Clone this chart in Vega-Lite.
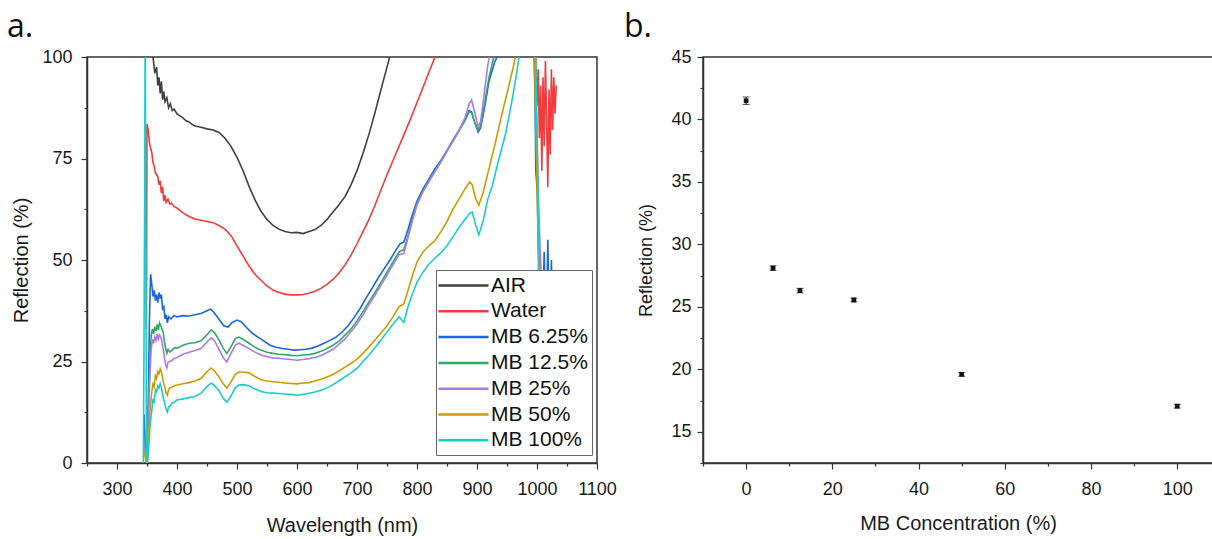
{
  "$schema": "https://vega.github.io/schema/vega-lite/v6.json",
  "background": "white",
  "padding": {"left": 6, "top": 10, "right": 0, "bottom": 2},
  "config": {
    "font": "Liberation Sans",
    "view": {"stroke": "#333333", "strokeWidth": 1.5},
    "axis": {"labelFont": "Liberation Sans", "titleFont": "Liberation Sans", "domainColor": "#333333", "domainWidth": 1.5, "tickColor": "#333333", "tickWidth": 1.2, "labelColor": "#1a1a1a", "titleColor": "#1a1a1a", "labelFontSize": 18, "titleFontSize": 20, "titleFontWeight": "normal", "grid": false, "labelFlush": false, "labelOverlap": false},
    "legend": {"labelFont": "Liberation Sans"},
    "title": {"font": "Open Sans", "fontSize": 32, "fontWeight": "normal", "color": "#111111", "anchor": "start", "frame": "bounds"},
    "concat": {"spacing": 5}
  },
  "datasets": {
    "spectra": [
      {"s":"AIR","w":356,"r":112},{"s":"AIR","w":360,"r":100},{"s":"AIR","w":363,"r":96},{"s":"AIR","w":366,"r":97.5},{"s":"AIR","w":368,"r":93},{"s":"AIR","w":370,"r":95},{"s":"AIR","w":372,"r":91},{"s":"AIR","w":374,"r":94},{"s":"AIR","w":376,"r":89.5},{"s":"AIR","w":378,"r":91.5},{"s":"AIR","w":380,"r":89},{"s":"AIR","w":383,"r":90},{"s":"AIR","w":386,"r":87.5},{"s":"AIR","w":389,"r":88.5},{"s":"AIR","w":392,"r":86.8},{"s":"AIR","w":395,"r":87.2},{"s":"AIR","w":400,"r":86},{"s":"AIR","w":405,"r":85.5},{"s":"AIR","w":410,"r":85},{"s":"AIR","w":415,"r":84.3},{"s":"AIR","w":420,"r":84},{"s":"AIR","w":425,"r":83.4},{"s":"AIR","w":430,"r":83},{"s":"AIR","w":440,"r":82.7},{"s":"AIR","w":450,"r":82.3},{"s":"AIR","w":460,"r":82},{"s":"AIR","w":470,"r":81.4},{"s":"AIR","w":480,"r":80},{"s":"AIR","w":490,"r":78},{"s":"AIR","w":500,"r":75.3},{"s":"AIR","w":510,"r":72},{"s":"AIR","w":520,"r":68.2},{"s":"AIR","w":530,"r":64.8},{"s":"AIR","w":540,"r":62},{"s":"AIR","w":550,"r":60},{"s":"AIR","w":560,"r":58.5},{"s":"AIR","w":570,"r":57.6},{"s":"AIR","w":580,"r":57},{"s":"AIR","w":590,"r":56.7},{"s":"AIR","w":600,"r":56.8},{"s":"AIR","w":610,"r":56.5},{"s":"AIR","w":620,"r":57},{"s":"AIR","w":630,"r":57.5},{"s":"AIR","w":640,"r":58.5},{"s":"AIR","w":650,"r":60},{"s":"AIR","w":660,"r":61.8},{"s":"AIR","w":670,"r":63.6},{"s":"AIR","w":680,"r":65.6},{"s":"AIR","w":690,"r":68.5},{"s":"AIR","w":700,"r":72},{"s":"AIR","w":710,"r":76.3},{"s":"AIR","w":720,"r":81},{"s":"AIR","w":730,"r":86.3},{"s":"AIR","w":740,"r":92},{"s":"AIR","w":750,"r":97.5},{"s":"AIR","w":760,"r":103},{"s":"AIR","w":770,"r":108},
      {"s":"Water","w":349,"r":33},{"s":"Water","w":350,"r":83.5},{"s":"Water","w":352,"r":82},{"s":"Water","w":354,"r":79},{"s":"Water","w":356,"r":77.5},{"s":"Water","w":358,"r":76.5},{"s":"Water","w":360,"r":74},{"s":"Water","w":362,"r":73},{"s":"Water","w":364,"r":71.5},{"s":"Water","w":366,"r":71},{"s":"Water","w":368,"r":70.5},{"s":"Water","w":370,"r":68.5},{"s":"Water","w":372,"r":69.5},{"s":"Water","w":374,"r":66.5},{"s":"Water","w":376,"r":68},{"s":"Water","w":378,"r":64.5},{"s":"Water","w":380,"r":66},{"s":"Water","w":382,"r":64.2},{"s":"Water","w":385,"r":65},{"s":"Water","w":388,"r":63.8},{"s":"Water","w":391,"r":64},{"s":"Water","w":395,"r":63.2},{"s":"Water","w":400,"r":62.8},{"s":"Water","w":405,"r":62.2},{"s":"Water","w":410,"r":61.6},{"s":"Water","w":420,"r":60.7},{"s":"Water","w":430,"r":60.1},{"s":"Water","w":440,"r":59.8},{"s":"Water","w":450,"r":59.5},{"s":"Water","w":460,"r":59.2},{"s":"Water","w":470,"r":58.5},{"s":"Water","w":480,"r":57.6},{"s":"Water","w":490,"r":56},{"s":"Water","w":500,"r":53.5},{"s":"Water","w":510,"r":51},{"s":"Water","w":520,"r":48.5},{"s":"Water","w":530,"r":46.5},{"s":"Water","w":540,"r":45},{"s":"Water","w":550,"r":43.6},{"s":"Water","w":560,"r":42.6},{"s":"Water","w":570,"r":42},{"s":"Water","w":580,"r":41.6},{"s":"Water","w":590,"r":41.4},{"s":"Water","w":600,"r":41.4},{"s":"Water","w":610,"r":41.5},{"s":"Water","w":620,"r":41.8},{"s":"Water","w":630,"r":42.3},{"s":"Water","w":640,"r":43},{"s":"Water","w":650,"r":44},{"s":"Water","w":660,"r":45.2},{"s":"Water","w":670,"r":46.8},{"s":"Water","w":680,"r":48.8},{"s":"Water","w":690,"r":51.2},{"s":"Water","w":700,"r":54},{"s":"Water","w":710,"r":57},{"s":"Water","w":720,"r":60},{"s":"Water","w":730,"r":63.5},{"s":"Water","w":740,"r":67.3},{"s":"Water","w":750,"r":71},{"s":"Water","w":760,"r":74.5},{"s":"Water","w":770,"r":78},{"s":"Water","w":780,"r":81.5},{"s":"Water","w":790,"r":85},{"s":"Water","w":800,"r":88.8},{"s":"Water","w":810,"r":92.5},{"s":"Water","w":820,"r":96.3},{"s":"Water","w":830,"r":100},{"s":"Water","w":840,"r":104},{"s":"Water","w":990,"r":125},{"s":"Water","w":998,"r":100},{"s":"Water","w":1000,"r":88},{"s":"Water","w":1002,"r":97},{"s":"Water","w":1004,"r":80},{"s":"Water","w":1006,"r":93},{"s":"Water","w":1008,"r":72},{"s":"Water","w":1010,"r":95},{"s":"Water","w":1012,"r":78},{"s":"Water","w":1014,"r":99},{"s":"Water","w":1016,"r":85},{"s":"Water","w":1018,"r":68},{"s":"Water","w":1020,"r":92},{"s":"Water","w":1022,"r":76},{"s":"Water","w":1024,"r":97},{"s":"Water","w":1026,"r":82},{"s":"Water","w":1028,"r":95},{"s":"Water","w":1030,"r":86},{"s":"Water","w":1032,"r":93},
      {"s":"MB 6.25%","w":345,"r":12},{"s":"MB 6.25%","w":348,"r":1},{"s":"MB 6.25%","w":351,"r":3},{"s":"MB 6.25%","w":354,"r":35},{"s":"MB 6.25%","w":356,"r":46.5},{"s":"MB 6.25%","w":358,"r":44},{"s":"MB 6.25%","w":360,"r":41},{"s":"MB 6.25%","w":362,"r":42.5},{"s":"MB 6.25%","w":364,"r":40},{"s":"MB 6.25%","w":366,"r":41.5},{"s":"MB 6.25%","w":368,"r":39.5},{"s":"MB 6.25%","w":370,"r":42},{"s":"MB 6.25%","w":372,"r":40.5},{"s":"MB 6.25%","w":374,"r":41.5},{"s":"MB 6.25%","w":376,"r":38},{"s":"MB 6.25%","w":378,"r":38.5},{"s":"MB 6.25%","w":380,"r":35.5},{"s":"MB 6.25%","w":382,"r":36.5},{"s":"MB 6.25%","w":384,"r":34.5},{"s":"MB 6.25%","w":386,"r":36},{"s":"MB 6.25%","w":390,"r":35.5},{"s":"MB 6.25%","w":395,"r":36.3},{"s":"MB 6.25%","w":400,"r":36},{"s":"MB 6.25%","w":410,"r":36.3},{"s":"MB 6.25%","w":420,"r":36.2},{"s":"MB 6.25%","w":430,"r":36.5},{"s":"MB 6.25%","w":440,"r":36.8},{"s":"MB 6.25%","w":450,"r":37.5},{"s":"MB 6.25%","w":456,"r":37.9},{"s":"MB 6.25%","w":462,"r":37},{"s":"MB 6.25%","w":470,"r":35.4},{"s":"MB 6.25%","w":478,"r":33.8},{"s":"MB 6.25%","w":485,"r":33.5},{"s":"MB 6.25%","w":492,"r":34.6},{"s":"MB 6.25%","w":500,"r":35.2},{"s":"MB 6.25%","w":507,"r":34.8},{"s":"MB 6.25%","w":515,"r":33.5},{"s":"MB 6.25%","w":525,"r":32},{"s":"MB 6.25%","w":535,"r":31},{"s":"MB 6.25%","w":545,"r":30},{"s":"MB 6.25%","w":555,"r":29},{"s":"MB 6.25%","w":565,"r":28.5},{"s":"MB 6.25%","w":575,"r":28.2},{"s":"MB 6.25%","w":585,"r":28},{"s":"MB 6.25%","w":595,"r":27.8},{"s":"MB 6.25%","w":605,"r":27.9},{"s":"MB 6.25%","w":615,"r":28},{"s":"MB 6.25%","w":625,"r":28.3},{"s":"MB 6.25%","w":635,"r":28.8},{"s":"MB 6.25%","w":645,"r":29.5},{"s":"MB 6.25%","w":655,"r":30.2},{"s":"MB 6.25%","w":665,"r":31},{"s":"MB 6.25%","w":675,"r":32.2},{"s":"MB 6.25%","w":685,"r":33.8},{"s":"MB 6.25%","w":695,"r":35.8},{"s":"MB 6.25%","w":705,"r":38},{"s":"MB 6.25%","w":715,"r":40.6},{"s":"MB 6.25%","w":725,"r":43},{"s":"MB 6.25%","w":735,"r":45.5},{"s":"MB 6.25%","w":745,"r":47.8},{"s":"MB 6.25%","w":755,"r":50},{"s":"MB 6.25%","w":765,"r":52.5},{"s":"MB 6.25%","w":772,"r":54},{"s":"MB 6.25%","w":778,"r":54.4},{"s":"MB 6.25%","w":785,"r":57.5},{"s":"MB 6.25%","w":792,"r":61},{"s":"MB 6.25%","w":800,"r":64.5},{"s":"MB 6.25%","w":810,"r":67.5},{"s":"MB 6.25%","w":820,"r":70},{"s":"MB 6.25%","w":830,"r":72.5},{"s":"MB 6.25%","w":840,"r":74.6},{"s":"MB 6.25%","w":850,"r":77},{"s":"MB 6.25%","w":860,"r":79.5},{"s":"MB 6.25%","w":870,"r":82},{"s":"MB 6.25%","w":880,"r":84.5},{"s":"MB 6.25%","w":887,"r":86.8},{"s":"MB 6.25%","w":891,"r":86.5},{"s":"MB 6.25%","w":896,"r":84},{"s":"MB 6.25%","w":902,"r":81.5},{"s":"MB 6.25%","w":906,"r":82.5},{"s":"MB 6.25%","w":912,"r":87},{"s":"MB 6.25%","w":920,"r":94},{"s":"MB 6.25%","w":930,"r":99},{"s":"MB 6.25%","w":937,"r":101},{"s":"MB 6.25%","w":990,"r":108},{"s":"MB 6.25%","w":996,"r":100},{"s":"MB 6.25%","w":998,"r":72},{"s":"MB 6.25%","w":1001,"r":66},{"s":"MB 6.25%","w":1004,"r":42},{"s":"MB 6.25%","w":1008,"r":30},{"s":"MB 6.25%","w":1012,"r":52},{"s":"MB 6.25%","w":1015,"r":28},{"s":"MB 6.25%","w":1018,"r":55},{"s":"MB 6.25%","w":1021,"r":30},{"s":"MB 6.25%","w":1024,"r":50},{"s":"MB 6.25%","w":1027,"r":26},{"s":"MB 6.25%","w":1030,"r":46},
      {"s":"MB 12.5%","w":345,"r":6},{"s":"MB 12.5%","w":349,"r":0.5},{"s":"MB 12.5%","w":352,"r":12},{"s":"MB 12.5%","w":355,"r":26},{"s":"MB 12.5%","w":357,"r":31.5},{"s":"MB 12.5%","w":359,"r":33},{"s":"MB 12.5%","w":361,"r":31.8},{"s":"MB 12.5%","w":363,"r":33.5},{"s":"MB 12.5%","w":365,"r":32.5},{"s":"MB 12.5%","w":367,"r":34.2},{"s":"MB 12.5%","w":369,"r":32.8},{"s":"MB 12.5%","w":371,"r":34.5},{"s":"MB 12.5%","w":373,"r":33.8},{"s":"MB 12.5%","w":375,"r":33},{"s":"MB 12.5%","w":377,"r":32.2},{"s":"MB 12.5%","w":379,"r":30},{"s":"MB 12.5%","w":381,"r":28.2},{"s":"MB 12.5%","w":383,"r":27},{"s":"MB 12.5%","w":385,"r":28},{"s":"MB 12.5%","w":388,"r":27.3},{"s":"MB 12.5%","w":392,"r":27.8},{"s":"MB 12.5%","w":396,"r":28.4},{"s":"MB 12.5%","w":400,"r":28.3},{"s":"MB 12.5%","w":410,"r":29},{"s":"MB 12.5%","w":420,"r":29.5},{"s":"MB 12.5%","w":430,"r":29.6},{"s":"MB 12.5%","w":440,"r":30.1},{"s":"MB 12.5%","w":450,"r":31.6},{"s":"MB 12.5%","w":457,"r":32.8},{"s":"MB 12.5%","w":463,"r":32},{"s":"MB 12.5%","w":470,"r":30.3},{"s":"MB 12.5%","w":477,"r":28.3},{"s":"MB 12.5%","w":483,"r":27},{"s":"MB 12.5%","w":490,"r":28.6},{"s":"MB 12.5%","w":497,"r":30.6},{"s":"MB 12.5%","w":503,"r":31},{"s":"MB 12.5%","w":510,"r":30.5},{"s":"MB 12.5%","w":520,"r":29.5},{"s":"MB 12.5%","w":530,"r":28.5},{"s":"MB 12.5%","w":540,"r":27.8},{"s":"MB 12.5%","w":550,"r":27.3},{"s":"MB 12.5%","w":560,"r":27},{"s":"MB 12.5%","w":570,"r":26.8},{"s":"MB 12.5%","w":580,"r":26.7},{"s":"MB 12.5%","w":590,"r":26.5},{"s":"MB 12.5%","w":600,"r":26.4},{"s":"MB 12.5%","w":610,"r":26.6},{"s":"MB 12.5%","w":620,"r":26.7},{"s":"MB 12.5%","w":630,"r":27},{"s":"MB 12.5%","w":640,"r":27.5},{"s":"MB 12.5%","w":650,"r":28.2},{"s":"MB 12.5%","w":660,"r":29},{"s":"MB 12.5%","w":670,"r":30},{"s":"MB 12.5%","w":680,"r":31.5},{"s":"MB 12.5%","w":690,"r":33},{"s":"MB 12.5%","w":700,"r":35},{"s":"MB 12.5%","w":710,"r":37.3},{"s":"MB 12.5%","w":720,"r":39.7},{"s":"MB 12.5%","w":730,"r":42},{"s":"MB 12.5%","w":740,"r":44.5},{"s":"MB 12.5%","w":750,"r":47},{"s":"MB 12.5%","w":760,"r":49.5},{"s":"MB 12.5%","w":770,"r":52},{"s":"MB 12.5%","w":778,"r":52.5},{"s":"MB 12.5%","w":785,"r":56},{"s":"MB 12.5%","w":792,"r":60},{"s":"MB 12.5%","w":800,"r":64},{"s":"MB 12.5%","w":810,"r":67},{"s":"MB 12.5%","w":820,"r":69.5},{"s":"MB 12.5%","w":830,"r":72},{"s":"MB 12.5%","w":840,"r":74.3},{"s":"MB 12.5%","w":850,"r":76.8},{"s":"MB 12.5%","w":860,"r":79.3},{"s":"MB 12.5%","w":870,"r":81.8},{"s":"MB 12.5%","w":880,"r":84.3},{"s":"MB 12.5%","w":887,"r":86.6},{"s":"MB 12.5%","w":891,"r":86.2},{"s":"MB 12.5%","w":896,"r":84},{"s":"MB 12.5%","w":902,"r":82},{"s":"MB 12.5%","w":906,"r":83},{"s":"MB 12.5%","w":912,"r":88},{"s":"MB 12.5%","w":920,"r":95},{"s":"MB 12.5%","w":928,"r":100},{"s":"MB 12.5%","w":940,"r":104},{"s":"MB 12.5%","w":988,"r":108},{"s":"MB 12.5%","w":995,"r":100},{"s":"MB 12.5%","w":1000,"r":70},{"s":"MB 12.5%","w":1003,"r":45},{"s":"MB 12.5%","w":1008,"r":30},{"s":"MB 12.5%","w":1015,"r":20},{"s":"MB 12.5%","w":1025,"r":15},
      {"s":"MB 25%","w":345,"r":5},{"s":"MB 25%","w":349,"r":0.5},{"s":"MB 25%","w":352,"r":10},{"s":"MB 25%","w":355,"r":22},{"s":"MB 25%","w":357,"r":28},{"s":"MB 25%","w":359,"r":30.5},{"s":"MB 25%","w":361,"r":29.5},{"s":"MB 25%","w":363,"r":31},{"s":"MB 25%","w":365,"r":30.2},{"s":"MB 25%","w":367,"r":31.8},{"s":"MB 25%","w":369,"r":30.5},{"s":"MB 25%","w":371,"r":31.5},{"s":"MB 25%","w":373,"r":31},{"s":"MB 25%","w":375,"r":29.8},{"s":"MB 25%","w":377,"r":28},{"s":"MB 25%","w":379,"r":26},{"s":"MB 25%","w":381,"r":24.2},{"s":"MB 25%","w":383,"r":23.4},{"s":"MB 25%","w":385,"r":24.8},{"s":"MB 25%","w":388,"r":25},{"s":"MB 25%","w":392,"r":25.3},{"s":"MB 25%","w":396,"r":25.8},{"s":"MB 25%","w":400,"r":26},{"s":"MB 25%","w":410,"r":26.8},{"s":"MB 25%","w":420,"r":27.3},{"s":"MB 25%","w":430,"r":27.7},{"s":"MB 25%","w":440,"r":28.2},{"s":"MB 25%","w":450,"r":29.8},{"s":"MB 25%","w":457,"r":30.8},{"s":"MB 25%","w":463,"r":30},{"s":"MB 25%","w":470,"r":28},{"s":"MB 25%","w":477,"r":26},{"s":"MB 25%","w":483,"r":24.9},{"s":"MB 25%","w":490,"r":27},{"s":"MB 25%","w":497,"r":29},{"s":"MB 25%","w":503,"r":29.5},{"s":"MB 25%","w":510,"r":29},{"s":"MB 25%","w":520,"r":28.2},{"s":"MB 25%","w":530,"r":27.3},{"s":"MB 25%","w":540,"r":26.6},{"s":"MB 25%","w":550,"r":26.2},{"s":"MB 25%","w":560,"r":25.9},{"s":"MB 25%","w":570,"r":25.8},{"s":"MB 25%","w":580,"r":25.6},{"s":"MB 25%","w":590,"r":25.5},{"s":"MB 25%","w":600,"r":25.3},{"s":"MB 25%","w":610,"r":25.5},{"s":"MB 25%","w":620,"r":25.7},{"s":"MB 25%","w":630,"r":26},{"s":"MB 25%","w":640,"r":26.5},{"s":"MB 25%","w":650,"r":27.2},{"s":"MB 25%","w":660,"r":28},{"s":"MB 25%","w":670,"r":29.2},{"s":"MB 25%","w":680,"r":30.6},{"s":"MB 25%","w":690,"r":32.3},{"s":"MB 25%","w":700,"r":34.2},{"s":"MB 25%","w":710,"r":36.5},{"s":"MB 25%","w":720,"r":39},{"s":"MB 25%","w":730,"r":41.3},{"s":"MB 25%","w":740,"r":43.8},{"s":"MB 25%","w":750,"r":46.3},{"s":"MB 25%","w":760,"r":48.8},{"s":"MB 25%","w":770,"r":51.3},{"s":"MB 25%","w":778,"r":51.6},{"s":"MB 25%","w":785,"r":55.5},{"s":"MB 25%","w":792,"r":59.5},{"s":"MB 25%","w":800,"r":63.5},{"s":"MB 25%","w":810,"r":66.8},{"s":"MB 25%","w":820,"r":69.3},{"s":"MB 25%","w":830,"r":71.8},{"s":"MB 25%","w":840,"r":74.2},{"s":"MB 25%","w":850,"r":76.8},{"s":"MB 25%","w":860,"r":79.3},{"s":"MB 25%","w":870,"r":82},{"s":"MB 25%","w":880,"r":85},{"s":"MB 25%","w":887,"r":88.5},{"s":"MB 25%","w":891,"r":89.4},{"s":"MB 25%","w":896,"r":86.5},{"s":"MB 25%","w":902,"r":82.8},{"s":"MB 25%","w":906,"r":84},{"s":"MB 25%","w":912,"r":91},{"s":"MB 25%","w":918,"r":98},{"s":"MB 25%","w":922,"r":101},{"s":"MB 25%","w":940,"r":106},{"s":"MB 25%","w":990,"r":108},{"s":"MB 25%","w":997,"r":100},{"s":"MB 25%","w":1003,"r":62},{"s":"MB 25%","w":1006,"r":50},{"s":"MB 25%","w":1010,"r":35},{"s":"MB 25%","w":1018,"r":25},{"s":"MB 25%","w":1025,"r":15},
      {"s":"MB 50%","w":345,"r":3},{"s":"MB 50%","w":349,"r":0},{"s":"MB 50%","w":352,"r":6},{"s":"MB 50%","w":355,"r":13},{"s":"MB 50%","w":358,"r":17.5},{"s":"MB 50%","w":360,"r":19.5},{"s":"MB 50%","w":362,"r":18.8},{"s":"MB 50%","w":364,"r":21.5},{"s":"MB 50%","w":366,"r":20.8},{"s":"MB 50%","w":368,"r":22.5},{"s":"MB 50%","w":370,"r":22},{"s":"MB 50%","w":372,"r":23.2},{"s":"MB 50%","w":374,"r":22.5},{"s":"MB 50%","w":376,"r":21},{"s":"MB 50%","w":378,"r":19.5},{"s":"MB 50%","w":380,"r":18.5},{"s":"MB 50%","w":382,"r":17.2},{"s":"MB 50%","w":384,"r":16.7},{"s":"MB 50%","w":386,"r":18},{"s":"MB 50%","w":388,"r":18.5},{"s":"MB 50%","w":392,"r":18.7},{"s":"MB 50%","w":396,"r":19},{"s":"MB 50%","w":400,"r":19.2},{"s":"MB 50%","w":410,"r":19.5},{"s":"MB 50%","w":420,"r":19.8},{"s":"MB 50%","w":430,"r":20.2},{"s":"MB 50%","w":440,"r":20.8},{"s":"MB 50%","w":450,"r":22.5},{"s":"MB 50%","w":457,"r":23.4},{"s":"MB 50%","w":463,"r":22.6},{"s":"MB 50%","w":470,"r":21.2},{"s":"MB 50%","w":477,"r":19.5},{"s":"MB 50%","w":483,"r":18.5},{"s":"MB 50%","w":490,"r":20},{"s":"MB 50%","w":497,"r":21.8},{"s":"MB 50%","w":503,"r":22.4},{"s":"MB 50%","w":510,"r":22.4},{"s":"MB 50%","w":520,"r":22.2},{"s":"MB 50%","w":530,"r":21.3},{"s":"MB 50%","w":540,"r":20.5},{"s":"MB 50%","w":550,"r":20.2},{"s":"MB 50%","w":560,"r":20},{"s":"MB 50%","w":570,"r":19.9},{"s":"MB 50%","w":580,"r":19.7},{"s":"MB 50%","w":590,"r":19.6},{"s":"MB 50%","w":600,"r":19.5},{"s":"MB 50%","w":610,"r":19.7},{"s":"MB 50%","w":620,"r":19.8},{"s":"MB 50%","w":630,"r":20.2},{"s":"MB 50%","w":640,"r":20.6},{"s":"MB 50%","w":650,"r":21.2},{"s":"MB 50%","w":660,"r":21.8},{"s":"MB 50%","w":670,"r":22.7},{"s":"MB 50%","w":680,"r":23.6},{"s":"MB 50%","w":690,"r":24.5},{"s":"MB 50%","w":700,"r":25.6},{"s":"MB 50%","w":710,"r":27},{"s":"MB 50%","w":720,"r":28.6},{"s":"MB 50%","w":730,"r":30.3},{"s":"MB 50%","w":740,"r":32},{"s":"MB 50%","w":750,"r":33.8},{"s":"MB 50%","w":760,"r":36},{"s":"MB 50%","w":770,"r":38.5},{"s":"MB 50%","w":778,"r":39.2},{"s":"MB 50%","w":785,"r":42.5},{"s":"MB 50%","w":792,"r":46},{"s":"MB 50%","w":800,"r":49.5},{"s":"MB 50%","w":810,"r":52},{"s":"MB 50%","w":820,"r":53.5},{"s":"MB 50%","w":830,"r":54.8},{"s":"MB 50%","w":840,"r":57},{"s":"MB 50%","w":850,"r":59.5},{"s":"MB 50%","w":860,"r":62.5},{"s":"MB 50%","w":870,"r":65},{"s":"MB 50%","w":880,"r":67.5},{"s":"MB 50%","w":888,"r":69.2},{"s":"MB 50%","w":892,"r":68.5},{"s":"MB 50%","w":898,"r":65},{"s":"MB 50%","w":903,"r":63.5},{"s":"MB 50%","w":910,"r":66.5},{"s":"MB 50%","w":920,"r":72.5},{"s":"MB 50%","w":930,"r":78.5},{"s":"MB 50%","w":940,"r":85},{"s":"MB 50%","w":950,"r":91},{"s":"MB 50%","w":958,"r":96},{"s":"MB 50%","w":965,"r":100.5},{"s":"MB 50%","w":975,"r":106},{"s":"MB 50%","w":990,"r":108},{"s":"MB 50%","w":996,"r":100},{"s":"MB 50%","w":1002,"r":55},{"s":"MB 50%","w":1006,"r":40},{"s":"MB 50%","w":1012,"r":25},{"s":"MB 50%","w":1020,"r":15},{"s":"MB 50%","w":1028,"r":10},
      {"s":"MB 100%","w":344,"r":0},{"s":"MB 100%","w":346,"r":60},{"s":"MB 100%","w":347,"r":110},{"s":"MB 100%","w":348,"r":60},{"s":"MB 100%","w":349,"r":5},{"s":"MB 100%","w":351,"r":0},{"s":"MB 100%","w":353,"r":4},{"s":"MB 100%","w":355,"r":9},{"s":"MB 100%","w":358,"r":13},{"s":"MB 100%","w":360,"r":15.5},{"s":"MB 100%","w":362,"r":15},{"s":"MB 100%","w":364,"r":18},{"s":"MB 100%","w":366,"r":17.5},{"s":"MB 100%","w":368,"r":19},{"s":"MB 100%","w":370,"r":18.5},{"s":"MB 100%","w":372,"r":19.5},{"s":"MB 100%","w":374,"r":18.5},{"s":"MB 100%","w":376,"r":17},{"s":"MB 100%","w":378,"r":15.5},{"s":"MB 100%","w":380,"r":14.5},{"s":"MB 100%","w":382,"r":13.2},{"s":"MB 100%","w":384,"r":12.6},{"s":"MB 100%","w":386,"r":13.8},{"s":"MB 100%","w":388,"r":14},{"s":"MB 100%","w":392,"r":14.8},{"s":"MB 100%","w":396,"r":15},{"s":"MB 100%","w":400,"r":15.5},{"s":"MB 100%","w":410,"r":15.8},{"s":"MB 100%","w":420,"r":16.1},{"s":"MB 100%","w":430,"r":16.4},{"s":"MB 100%","w":440,"r":17.2},{"s":"MB 100%","w":450,"r":18.8},{"s":"MB 100%","w":457,"r":19.7},{"s":"MB 100%","w":463,"r":19},{"s":"MB 100%","w":470,"r":17.8},{"s":"MB 100%","w":477,"r":16},{"s":"MB 100%","w":483,"r":15},{"s":"MB 100%","w":490,"r":16.5},{"s":"MB 100%","w":497,"r":18.5},{"s":"MB 100%","w":503,"r":19.2},{"s":"MB 100%","w":510,"r":19.3},{"s":"MB 100%","w":520,"r":19},{"s":"MB 100%","w":530,"r":18.2},{"s":"MB 100%","w":540,"r":17.6},{"s":"MB 100%","w":550,"r":17.3},{"s":"MB 100%","w":560,"r":17.2},{"s":"MB 100%","w":570,"r":17.1},{"s":"MB 100%","w":580,"r":17},{"s":"MB 100%","w":590,"r":16.9},{"s":"MB 100%","w":600,"r":16.7},{"s":"MB 100%","w":610,"r":16.9},{"s":"MB 100%","w":620,"r":17.2},{"s":"MB 100%","w":630,"r":17.5},{"s":"MB 100%","w":640,"r":17.9},{"s":"MB 100%","w":650,"r":18.5},{"s":"MB 100%","w":660,"r":19.3},{"s":"MB 100%","w":670,"r":20.2},{"s":"MB 100%","w":680,"r":21.2},{"s":"MB 100%","w":690,"r":22.2},{"s":"MB 100%","w":700,"r":23.3},{"s":"MB 100%","w":710,"r":25},{"s":"MB 100%","w":720,"r":26.6},{"s":"MB 100%","w":730,"r":28.4},{"s":"MB 100%","w":740,"r":30.3},{"s":"MB 100%","w":750,"r":32.3},{"s":"MB 100%","w":760,"r":34.2},{"s":"MB 100%","w":770,"r":36},{"s":"MB 100%","w":778,"r":34.6},{"s":"MB 100%","w":785,"r":38.5},{"s":"MB 100%","w":792,"r":41.5},{"s":"MB 100%","w":800,"r":44.5},{"s":"MB 100%","w":810,"r":47},{"s":"MB 100%","w":820,"r":49},{"s":"MB 100%","w":830,"r":50.5},{"s":"MB 100%","w":840,"r":51.8},{"s":"MB 100%","w":850,"r":53.5},{"s":"MB 100%","w":860,"r":55.7},{"s":"MB 100%","w":870,"r":58},{"s":"MB 100%","w":880,"r":60},{"s":"MB 100%","w":888,"r":61.5},{"s":"MB 100%","w":892,"r":61.8},{"s":"MB 100%","w":898,"r":58.5},{"s":"MB 100%","w":903,"r":56.2},{"s":"MB 100%","w":910,"r":59.5},{"s":"MB 100%","w":918,"r":65},{"s":"MB 100%","w":925,"r":68},{"s":"MB 100%","w":935,"r":74},{"s":"MB 100%","w":948,"r":81.3},{"s":"MB 100%","w":958,"r":89},{"s":"MB 100%","w":965,"r":95},{"s":"MB 100%","w":970,"r":100},{"s":"MB 100%","w":980,"r":106},{"s":"MB 100%","w":992,"r":108},{"s":"MB 100%","w":998,"r":100},{"s":"MB 100%","w":1004,"r":45},{"s":"MB 100%","w":1010,"r":30},{"s":"MB 100%","w":1020,"r":15},{"s":"MB 100%","w":1028,"r":10}
    ],
    "conc": [
      {"c":0,"r":41.5,"e":0.3},
      {"c":6.25,"r":28.1,"e":0.18},
      {"c":12.5,"r":26.3,"e":0.18},
      {"c":25,"r":25.55,"e":0.15},
      {"c":50,"r":19.6,"e":0.15},
      {"c":100,"r":17.05,"e":0.15}
    ]
  },
  "hconcat": [
    {
      "title": {"text": "a.", "offset": 4, "dx": -5},
      "width": 510,
      "height": 406,
      "data": {"name": "spectra"},
      "mark": {"type": "line", "strokeWidth": 1.6, "clip": true},
      "encoding": {
        "x": {"field": "w", "type": "quantitative", "scale": {"domain": [250, 1100], "nice": false, "zero": false},
          "axis": {"title": "Wavelength (nm)", "format": "d", "values": [250,300,350,400,450,500,550,600,650,700,750,800,850,900,950,1000,1050,1100],
            "labelExpr": "datum.value % 100 === 0 ? datum.label : ''",
            "tickSize": {"condition": {"test": "datum.value % 100 !== 0", "value": 3}, "value": 6},
            "labelPadding": 11, "titlePadding": 17}},
        "y": {"field": "r", "type": "quantitative", "scale": {"domain": [0, 100], "nice": false},
          "axis": {"title": "Reflection (%)", "format": "d", "values": [0,12.5,25,37.5,50,62.5,75,87.5,100],
            "labelExpr": "datum.value % 25 === 0 ? datum.label : ''",
            "tickSize": {"condition": {"test": "datum.value % 25 !== 0", "value": 3}, "value": 6},
            "labelPadding": 9, "titlePadding": 10}},
        "color": {"field": "s", "type": "nominal",
          "scale": {"domain": ["AIR", "Water", "MB 6.25%", "MB 12.5%", "MB 25%", "MB 50%", "MB 100%"],
                    "range": ["#404040", "#f23a3a", "#1a66e0", "#33a866", "#a97be8", "#cc9a00", "#19cccc"]},
          "legend": {"title": null, "orient": "none", "legendX": 349, "legendY": 213,
            "symbolType": "M-4,0H1", "symbolSize": 400, "symbolStrokeWidth": 2.5, "symbolOffset": 27,
            "labelFontSize": 21, "labelColor": "#111111", "labelOffset": 1, "labelLimit": 200,
            "fillColor": "white", "strokeColor": "#666666", "padding": 4, "rowPadding": 3.8}}
      }
    },
    {
      "title": {"text": "b.", "offset": 4, "dx": -14},
      "width": 510,
      "height": 406,
      "data": {"name": "conc"},
      "encoding": {
        "x": {"field": "c", "type": "quantitative", "scale": {"domain": [-10, 108.3], "nice": false, "zero": false},
          "axis": {"title": "MB Concentration (%)", "format": "d", "values": [-10,0,10,20,30,40,50,60,70,80,90,100],
            "labelExpr": "datum.value % 20 === 0 ? datum.label : ''",
            "tickSize": {"condition": {"test": "datum.value % 20 !== 0", "value": 3}, "value": 6},
            "labelPadding": 11, "titlePadding": 15}},
        "y": {"field": "r", "type": "quantitative", "scale": {"domain": [12.5, 45], "nice": false, "zero": false},
          "axis": {"title": "Reflection (%)", "titleFontSize": 18, "format": "d", "values": [12.5,15,17.5,20,22.5,25,27.5,30,32.5,35,37.5,40,42.5,45],
            "labelExpr": "datum.value % 5 === 0 ? datum.label : ''",
            "tickSize": {"condition": {"test": "datum.value % 5 !== 0", "value": 3}, "value": 6},
            "labelPadding": 6, "titlePadding": 15}}
      },
      "layer": [
        {"mark": {"type": "errorbar", "ticks": {"size": 7, "color": "#111111", "strokeWidth": 1}, "color": "#111111", "strokeWidth": 1},
         "encoding": {"yError": {"field": "e"}}},
        {"mark": {"type": "square", "size": 22, "color": "#111111", "opacity": 1}}
      ]
    }
  ]
}
